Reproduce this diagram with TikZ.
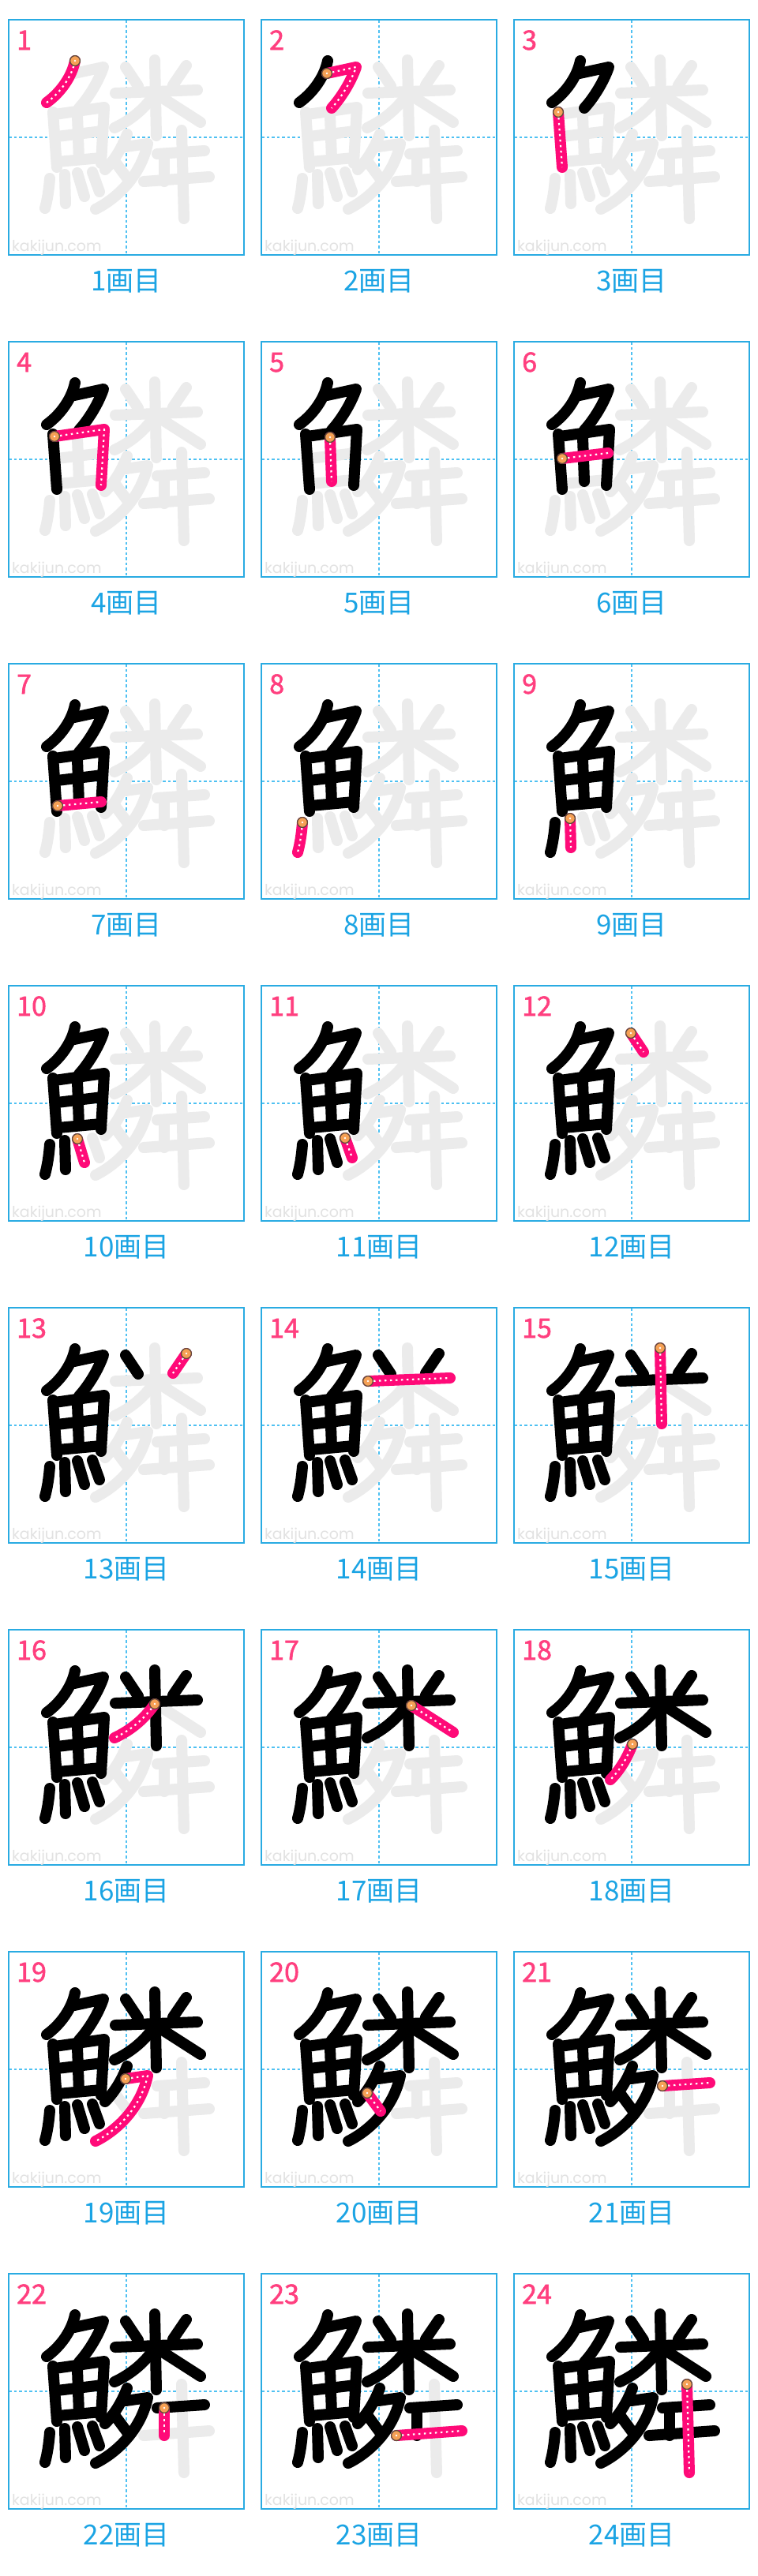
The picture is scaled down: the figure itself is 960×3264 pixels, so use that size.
\documentclass[tikz,border=0pt]{standalone}
\usepackage{fontspec}
\setmainfont{Noto Sans}
\newfontfamily\jpfont{Noto Sans CJK JP}
\newfontfamily\numfont{Noto Sans CJK JP}[FakeBold=1.6]
\newfontfamily\wmfont{Poppins}

\definecolor{gridblue}{HTML}{29ABE2}
\definecolor{guideblue}{HTML}{4FC1F2}
\definecolor{capblue}{HTML}{1BA4E4}
\definecolor{numpink}{HTML}{FF3F7F}
\definecolor{strokepink}{HTML}{FF0A78}
\definecolor{ghostgray}{HTML}{EBEBEB}
\definecolor{markgray}{HTML}{E2E2E2}
\definecolor{dotorange}{HTML}{F6A055}
\definecolor{dotrim}{HTML}{5E4A3A}

% one stroke: number, start x, start y, path
\newcommand\defstroke[4]{%
  \expandafter\def\csname ks#1\endcsname{#4}%
  \expandafter\def\csname kx#1\endcsname{#2}%
  \expandafter\def\csname ky#1\endcsname{#3}}
\newcommand\usestroke[1]{%
  \expandafter\let\expandafter\kpath\csname ks#1\endcsname
  \expandafter\let\expandafter\kx\csname kx#1\endcsname
  \expandafter\let\expandafter\ky\csname ky#1\endcsname}

% fish
\defstroke{1}{84}{52}{(84,52) .. controls (80,72) and (66,92) .. (48,105)}
\defstroke{2}{83}{68}{(83,68) -- (120,60) .. controls (113,80) and (100,100) .. (89,112)}
\defstroke{3}{56}{117}{(56,117) -- (61,187)}
\defstroke{4}{58}{120}{(58,120) -- (121,111) -- (117,182)}
\defstroke{5}{87}{121}{(87,121) -- (89,177)}
\defstroke{6}{61}{148}{(61,148) -- (119,141)}
\defstroke{7}{62}{180}{(62,180) -- (117,175)}
\defstroke{8}{52}{201}{(52,201) .. controls (51,215) and (49,228) .. (46,239)}
\defstroke{9}{71}{196}{(71,196) -- (72,233)}
\defstroke{10}{87}{194}{(87,194) -- (96,224)}
\defstroke{11}{106}{193}{(106,193) -- (115,218)}
% rice
\defstroke{12}{148}{60}{(148,60) -- (164,84)}
\defstroke{13}{225}{58}{(225,58) -- (208,83)}
\defstroke{14}{135}{93}{(135,93) -- (239,89)}
\defstroke{15}{185}{51}{(185,51) -- (187,147)}
\defstroke{16}{185}{94}{(185,94) .. controls (172,113) and (155,127) .. (134,137)}
\defstroke{17}{190}{96}{(190,96) -- (243,130)}
% evening + right part
\defstroke{18}{150}{145}{(150,145) .. controls (143,163) and (134,178) .. (122,190)}
\defstroke{19}{148}{161}{(148,161) -- (176,157) .. controls (168,195) and (140,225) .. (110,240)}
\defstroke{20}{134}{179}{(134,179) -- (151,202)}
\defstroke{21}{188}{170}{(188,170) -- (248,166)}
\defstroke{22}{197}{170}{(197,170) -- (197,205)}
\defstroke{23}{171}{205}{(171,205) -- (254,199)}
\defstroke{24}{219}{140}{(219,140) -- (222,252)}

\begin{document}
\begin{tikzpicture}[x=1pt, y=-1pt,
    panel/.style={draw=gridblue, line width=1.6pt},
    guide/.style={draw=guideblue, line width=1.5pt, dash pattern=on 3.5pt off 3pt},
    ghost/.style={draw=ghostgray, line width=14pt, line cap=round, line join=round},
    done/.style={ghost, draw=black},
    current/.style={ghost, draw=strokepink},
    dots/.style={draw=white, line width=2.2pt, dash pattern=on 2.5pt off 4.5pt, line join=round},
    startdot/.style={fill=dotorange, draw=dotrim, line width=1.3pt},
    numlabel/.style={anchor=base west, inner sep=0pt, text=numpink, font=\numfont\fontsize{34}{34}\selectfont},
    caption/.style={text=capblue, font=\jpfont\fontsize{35}{35}\selectfont},
    watermark/.style={anchor=base west, inner sep=0pt, text=markgray, font=\wmfont\fontsize{19}{19}\selectfont},
  ]
  \fill[white] (0,0) rectangle (960,3264);
  \useasboundingbox (0,0) rectangle (960,3264);

  \foreach \n in {1,...,24} {
    \pgfmathtruncatemacro\r{(\n-1)/3}
    \pgfmathtruncatemacro\c{mod(\n-1,3)}
    \pgfmathtruncatemacro\m{\n-1}
    \begin{scope}[shift={(11+320*\c,25+408*\r)}]
      \draw[guide] (149,0) -- (149,298);
      \draw[guide] (0,149) -- (298,149);
      \draw[panel] (0,0) rectangle (298,298);
      \node[watermark] (wm\n) at (4,293) {kakijun.com};
      \node[numlabel] (num\n) at (10,38) {\n};
      \node[caption] (cap\n) at (149,331) {\n{}画目};
      % whole character in grey
      \foreach \k in {1,...,24} {\usestroke{\k}\draw[ghost] \kpath;}
      % strokes already written
      \ifnum\m>0
        \foreach \k in {1,...,\m} {\usestroke{\k}\draw[done] \kpath;}
      \fi
      % the stroke of this step
      \usestroke{\n}
      \draw[current] \kpath;
      \draw[dots] \kpath;
      \filldraw[startdot] (\kx,\ky) circle (6.4);
      \fill[white] (\kx,\ky) circle (1.3);
    \end{scope}
  }
\end{tikzpicture}
\end{document}
